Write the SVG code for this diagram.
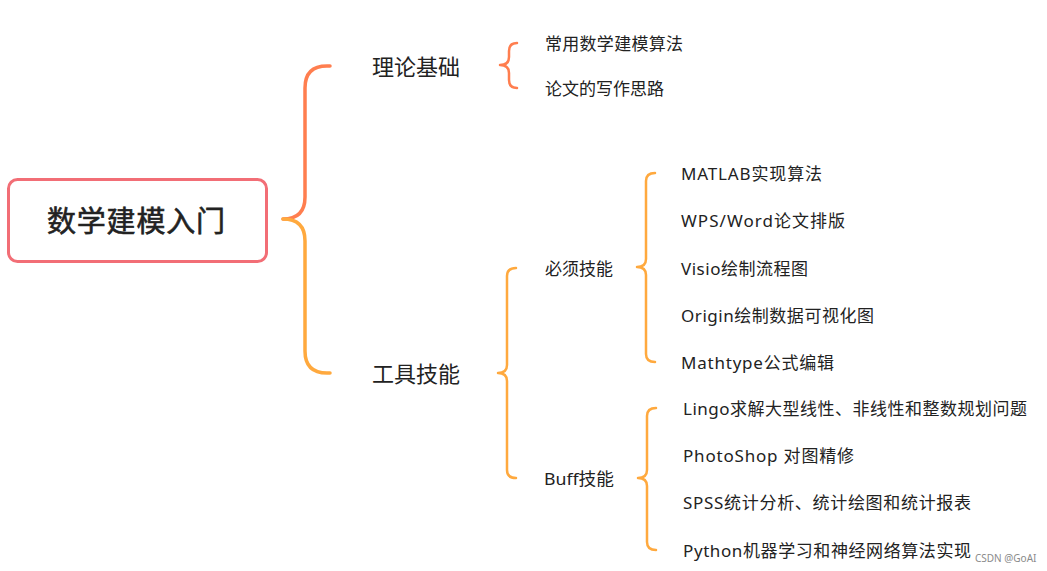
<svg xmlns="http://www.w3.org/2000/svg" width="1047" height="571" viewBox="0 0 1047 571">
<style>
text{font-family:"Noto Sans","Noto Sans CJK SC",sans-serif;fill:#222;dominant-baseline:central}
.root{font-size:29px;font-weight:400;text-anchor:middle;stroke:#222;stroke-width:0.6}
.l1{font-size:22px}
.l2{font-size:17px}
.l3{font-size:17px}
.b{fill:none;stroke-linecap:round;stroke-linejoin:round}
.coral{stroke:#FF7E4F}
.orange{stroke:#FFA93E}
.wm{font-size:10px;fill:#8a8a8a}
</style>
<rect width="1047" height="571" fill="#fff"/>
<g id="connectors">
<path class="b coral" stroke-width="3.5" d="M283,219 Q305,219 305,197 L305,88 Q305,66 327,66 L330,66"/>
<path class="b orange" stroke-width="3.5" d="M283,219 Q305,219 305,241 L305,351 Q305,373 327,373 L330,373"/>
<path class="b coral" stroke-width="2.5" d="M500,65 Q509,65 509,57 L509,51 Q509,43 517,43 M500,65 Q509,65 509,73 L509,80 Q509,88 517,88"/>
<path class="b orange" stroke-width="2.5" d="M498,373 Q507,373 507,365 L507,276 Q507,268 516,268 M498,373 Q507,373 507,381 L507,470 Q507,478 516,478"/>
<path class="b orange" stroke-width="2.5" d="M637,267 Q646,267 646,259 L646,181 Q646,173 655,173 M637,267 Q646,267 646,275 L646,354 Q646,362 655,362"/>
<path class="b orange" stroke-width="2.5" d="M638,478 Q647,478 647,470 L647,416 Q647,408 656,408 M638,478 Q647,478 647,486 L647,542 Q647,550 656,550"/>
</g>
<g id="root">
<rect x="8.5" y="179.5" width="258" height="82" rx="9" fill="#fff" stroke="#F26E76" stroke-width="3"/>
<text class="root" x="136" y="220" textLength="178">数学建模入门</text>
</g>
<g id="theory"><text class="l1" x="372" y="66">理论基础</text></g>
<g id="tools"><text class="l1" x="372" y="373">工具技能</text></g>
<g id="t1"><text class="l3" x="545" y="43" textLength="138">常用数学建模算法</text></g>
<g id="t2"><text class="l3" x="545" y="88">论文的写作思路</text></g>
<g id="must"><text class="l2" x="545" y="268">必须技能</text></g>
<g id="buff"><text class="l2" x="544" y="478" textLength="70" lengthAdjust="spacingAndGlyphs">Buff技能</text></g>
<g id="m1"><text class="l3" x="681" y="173" textLength="141">MATLAB实现算法</text></g>
<g id="m2"><text class="l3" x="681" y="220" textLength="164">WPS/Word论文排版</text></g>
<g id="m3"><text class="l3" x="681" y="268" textLength="127">Visio绘制流程图</text></g>
<g id="m4"><text class="l3" x="681" y="315" textLength="193">Origin绘制数据可视化图</text></g>
<g id="m5"><text class="l3" x="681" y="362" textLength="153">Mathtype公式编辑</text></g>
<g id="b1"><text class="l3" x="683" y="408" textLength="344">Lingo求解大型线性、非线性和整数规划问题</text></g>
<g id="b2"><text class="l3" x="683" y="455" textLength="171">PhotoShop 对图精修</text></g>
<g id="b3"><text class="l3" x="683" y="502" textLength="288">SPSS统计分析、统计绘图和统计报表</text></g>
<g id="b4"><text class="l3" x="683" y="550" textLength="288">Python机器学习和神经网络算法实现</text></g>
<text class="wm" x="975" y="558">CSDN @GoAI</text>
</svg>
